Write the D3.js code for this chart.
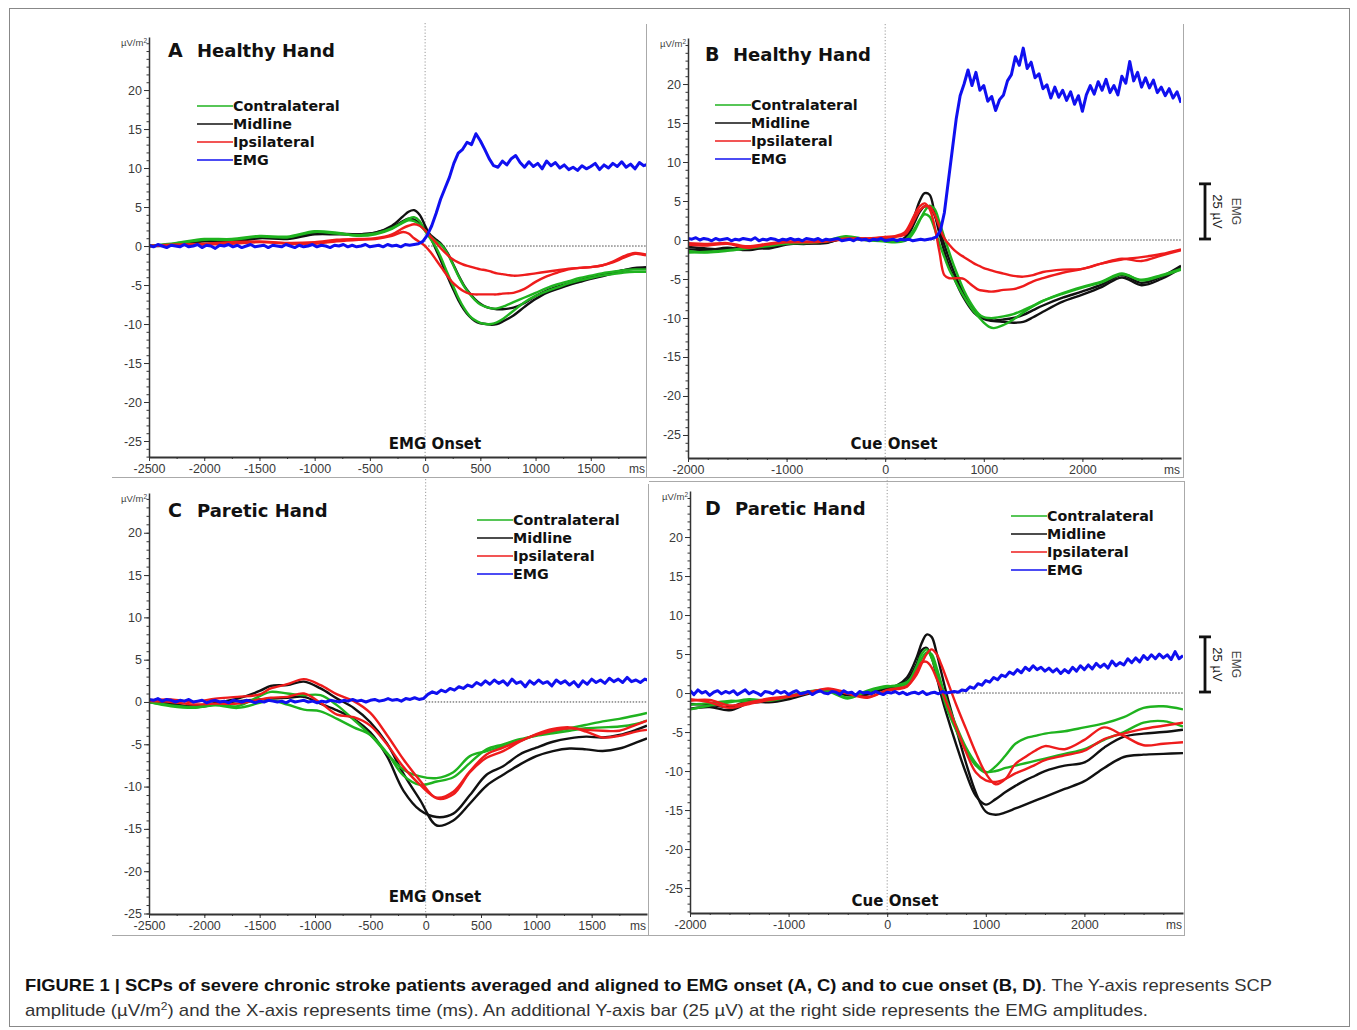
<!DOCTYPE html>
<html>
<head>
<meta charset="utf-8">
<script src="https://cdn.jsdelivr.net/npm/d3@7"></script>
<style>
  body { margin: 0; background: #fff; }
  svg { display: block; }
</style>
</head>
<body>
<svg id="fig" width="1357" height="1030"></svg>
<script>
// ---------------- data (µV/m², EMG in plot units) ----------------
// Panel A: healthy hand, aligned to EMG onset
var timesA = [-2500,-2250,-2000,-1750,-1500,-1250,-1000,-800,-600,-450,-300,-200,-150,-100,-50,0,50,100,150,200,250,300,350,400,450,500,550,600,650,700,800,900,1000,1100,1200,1300,1400,1500,1600,1700,1800,1900,2000];
var contraA1 = [0,0.3,0.8,0.8,1.2,1.1,1.8,1.6,1.4,1.6,2.3,3.1,3.5,3.7,3.2,1.9,0.9,-0.2,-1.7,-3.4,-5.0,-6.6,-7.9,-8.9,-9.5,-9.85,-10.0,-10.0,-9.8,-9.4,-8.3,-7.2,-6.4,-5.8,-5.3,-4.8,-4.4,-4.1,-3.8,-3.6,-3.4,-3.3,-3.3];
var contraA2 = [0,0.4,0.9,0.9,1.3,1.2,1.9,1.7,1.3,1.5,2.2,3.0,3.3,3.2,2.7,2.0,1.2,0.6,0.1,-0.9,-2.3,-3.8,-5.1,-6.1,-6.9,-7.5,-7.8,-8.0,-8.0,-7.8,-7.2,-6.6,-6.0,-5.4,-4.9,-4.5,-4.1,-3.8,-3.5,-3.3,-3.1,-3.0,-3.0];
var midA1 = [0,0.1,0.6,0.5,1.0,0.9,1.5,1.5,1.5,1.7,2.6,3.8,4.4,4.6,4.0,2.6,1.1,-0.5,-2.1,-3.8,-5.4,-6.9,-8.1,-9.0,-9.6,-9.9,-10.0,-10.1,-10.0,-9.7,-8.9,-7.8,-6.8,-6.0,-5.5,-5.0,-4.6,-4.2,-3.9,-3.5,-3.1,-2.8,-2.7];
var midA2 = [0,0.2,0.7,0.6,1.1,1.0,1.6,1.6,1.5,1.7,2.4,3.2,3.5,3.4,2.9,2.2,1.4,0.8,0.2,-0.8,-2.2,-3.7,-5.0,-6.0,-6.8,-7.4,-7.8,-8.0,-8.1,-8.1,-7.9,-7.3,-6.4,-5.7,-5.2,-4.8,-4.4,-4.0,-3.7,-3.4,-3.1,-2.9,-2.8];
var ipsiA1 = [0,0.1,0.2,0.3,0.5,0.3,0.3,0.6,0.8,0.9,1.3,1.8,1.6,1.0,0.5,0.0,-0.8,-1.8,-2.8,-3.8,-4.7,-5.3,-5.8,-6.1,-6.2,-6.2,-6.2,-6.2,-6.2,-6.1,-6.0,-5.5,-4.6,-3.9,-3.4,-3.0,-2.8,-2.7,-2.5,-2.1,-1.5,-1.0,-1.2];
var ipsiA2 = [0,0.2,0.3,0.5,0.6,0.4,0.5,0.8,0.9,1.0,1.5,2.3,2.6,2.8,2.6,2.0,1.2,0.4,-0.4,-1.1,-1.7,-2.1,-2.4,-2.6,-2.8,-3.0,-3.1,-3.3,-3.5,-3.6,-3.8,-3.7,-3.5,-3.3,-3.1,-2.9,-2.8,-2.7,-2.5,-2.0,-1.3,-0.9,-1.1];
var emgA = [0.1,-0.1,0.2,0,-0.2,0.1,0,-0.1,0.2,-0.1, 0,0.2,-0.2,0.1,0,-0.3,0.1,0,0.2,-0.1, 0.1,-0.2,0,0.2,-0.1,0,0.1,-0.2,0.1,0,
  -0.1,0.2,0,-0.2,0.1,-0.1,0,0.2,-0.1,0.1, 0,-0.2,0.1,0,0.2,-0.1,0.1,-0.1,0,0.2, -0.1,0,0.1,-0.1,0.2,0,0.1,-0.1,0.2,0.1,
  0.2,0.3,0.6,1.4,2.6,4.2,6.0,7.4,8.8,10.6,11.9,12.4,13.3,13.0,14.4,13.5,12.4,11.2,10.3,10.1,
  10.9,10.4,11.2,11.6,10.7,10.1,10.8,10.2,10.6,9.9,10.9,10.3,10.7,10.0,10.4,9.8,10.1,9.7,10.3,9.9,
  10.2,10.6,9.8,10.4,10.0,10.6,10.2,10.8,10.1,10.5,9.9,10.7,10.3,10.5];

// Panel B: healthy hand, aligned to cue onset
var timesB = [-2000,-1800,-1600,-1400,-1200,-1000,-800,-600,-400,-200,0,100,200,250,300,350,400,450,500,550,600,650,700,750,800,850,900,950,1000,1050,1100,1200,1300,1400,1500,1600,1800,2000,2200,2400,2600,2800,3000];
var contraB1 = [-1.6,-1.5,-1.3,-1.0,-0.7,-0.4,-0.4,-0.1,0.5,0.1,-0.1,-0.2,0.0,0.6,1.5,2.6,3.3,3.0,1.5,-0.5,-2.2,-3.8,-5.0,-6.2,-7.3,-8.3,-9.2,-9.9,-10.6,-11.1,-11.3,-10.9,-10.2,-9.3,-8.5,-7.8,-6.8,-6.0,-5.3,-4.3,-5.2,-4.6,-3.8];
var contraB2 = [-1.4,-1.6,-1.4,-1.1,-0.8,-0.5,-0.3,-0.2,0.4,0.0,-0.2,-0.3,-0.1,0.3,1.2,2.5,3.7,4.4,4.0,2.3,0.3,-1.6,-3.4,-5.0,-6.5,-7.7,-8.7,-9.5,-9.9,-10.0,-10.0,-9.8,-9.5,-9.0,-8.4,-7.8,-6.9,-6.1,-5.4,-4.4,-5.1,-4.5,-3.7];
var midB1 = [-1.2,-1.3,-1.0,-1.3,-0.9,-0.5,-0.5,-0.3,0.2,0.0,0.0,-0.1,0.3,1.5,3.2,5.0,6.0,5.8,3.5,0.8,-1.5,-3.4,-4.9,-6.3,-7.5,-8.5,-9.3,-9.8,-10.1,-10.3,-10.4,-10.5,-10.6,-10.5,-9.9,-9.2,-7.9,-7.0,-6.0,-4.8,-5.8,-5.0,-3.6];
var midB2 = [-0.9,-1.1,-1.2,-0.9,-1.1,-0.6,-0.4,-0.4,0.3,0.1,0.1,0.0,0.2,1.0,2.3,3.6,4.3,4.2,3.2,1.4,-0.6,-2.5,-4.2,-5.7,-6.9,-8.0,-8.9,-9.6,-10.0,-10.2,-10.3,-10.2,-10.0,-9.6,-9.0,-8.4,-7.4,-6.6,-5.7,-4.5,-5.5,-4.7,-3.3];
var ipsiB1 = [-0.4,-0.5,-0.4,-0.8,-0.5,-0.2,-0.2,-0.1,0.2,0.2,0.4,0.5,1.0,2.0,3.3,4.3,4.7,4.0,1.8,-1.5,-4.5,-4.9,-4.9,-4.9,-5.0,-5.5,-6.0,-6.4,-6.5,-6.6,-6.6,-6.4,-6.3,-5.9,-5.3,-4.9,-4.2,-3.7,-3.0,-2.5,-2.2,-1.8,-1.2];
var ipsiB2 = [-0.6,-0.7,-0.5,-1.0,-0.6,-0.3,-0.3,-0.2,0.1,0.2,0.3,0.4,0.7,1.5,2.7,3.8,4.3,4.3,3.3,1.7,0.2,-0.6,-1.3,-1.8,-2.2,-2.6,-3.0,-3.3,-3.6,-3.8,-4.0,-4.3,-4.6,-4.7,-4.5,-4.1,-3.8,-3.7,-3.0,-2.4,-2.7,-2.0,-1.3];
var emgB = [0.2,0.1,0.3,0.0,0.2,0.1,-0.1,0.2,0.0,0.1, 0.2,-0.1,0.1,0.0,0.2,0.1,0.0,0.3,-0.1,0.1, 0.0,0.2,0.1,-0.1,0.1,0.0,0.2,0.0,0.1,-0.1,
  0.2,0.1,0.0,0.2,-0.1,0.1,0.0,0.1,0.2,-0.1, 0.0,0.1,-0.1,0.2,0.0,0.1,-0.1,0.1,0.0,0.2, -0.1,0.0,0.1,-0.1,0.1,0.0,0.1,-0.1,0.0,0.1,
  0.0,0.1,0.2,0.4,1.2,3.5,7.5,11.5,15.5,18.5,20.0,21.8,19.8,21.5,19.2,19.8,17.8,18.4,16.6,18.0,
  18.6,20.4,21.2,23.5,22.4,24.6,22.0,22.8,20.8,21.3,19.4,19.9,18.2,19.6,18.3,19.2,17.9,19.0,17.4,18.5,
  16.5,18.6,19.8,18.7,20.3,19.2,20.6,18.9,19.8,18.6,21.0,20.1,22.9,20.4,21.5,19.6,20.8,19.5,20.5,18.9,
  19.6,18.5,19.4,18.2,19.0,17.6];

// Panel C: paretic hand, aligned to EMG onset
var timesC = [-2500,-2300,-2100,-1900,-1700,-1500,-1400,-1250,-1100,-950,-800,-650,-500,-350,-200,-50,100,250,400,550,700,850,1000,1150,1300,1450,1600,1750,1900,2000];
var contraC1 = [0,-0.4,-0.6,-0.3,-0.5,0.7,1.2,1.0,0.8,0.8,-0.4,-2.1,-3.9,-6.1,-8.0,-8.8,-9.0,-8.3,-6.4,-5.8,-5.2,-4.6,-3.9,-3.5,-3.1,-2.7,-2.3,-2.0,-1.6,-1.3];
var contraC2 = [0,-0.5,-0.7,-0.4,-0.7,-0.1,0.2,-0.3,-0.9,-1.1,-2.0,-3.0,-3.9,-6.0,-8.7,-9.8,-9.4,-8.9,-7.2,-5.6,-5.0,-4.4,-4.0,-3.7,-3.4,-3.1,-3.0,-2.9,-2.6,-2.2];
var midC1 = [0,-0.3,-0.5,-0.1,0.4,1.3,1.9,2.0,2.4,1.6,0.4,-0.7,-2.4,-4.9,-8.5,-11.6,-14.6,-14.0,-12.0,-9.9,-8.6,-7.4,-6.4,-5.8,-5.5,-5.6,-5.8,-5.5,-4.8,-4.3];
var midC2 = [0.1,-0.2,-0.6,-0.3,0.1,0.3,0.4,0.5,0.6,-0.2,-1.0,-2.0,-3.6,-6.4,-10.5,-12.8,-13.6,-13.2,-11.0,-8.6,-7.6,-6.2,-5.4,-4.7,-4.3,-4.1,-4.2,-3.9,-3.3,-2.8];
var ipsiC1 = [0.2,0.3,0.0,0.4,0.6,0.9,1.6,2.1,2.7,2.0,0.9,0.1,-1.3,-3.9,-6.8,-9.3,-11.4,-10.9,-8.3,-6.6,-5.8,-4.7,-3.8,-3.2,-3.0,-3.5,-4.2,-4.0,-3.5,-3.3];
var ipsiC2 = [0.1,0.0,-0.3,-0.2,-0.2,0.3,0.5,0.6,1.0,-0.1,-1.5,-1.8,-2.8,-5.0,-7.7,-9.8,-11.3,-10.6,-8.2,-6.2,-5.4,-4.6,-3.9,-3.4,-3.1,-3.3,-3.4,-3.4,-2.7,-2.2];
var emgC = [0.3,0.2,0.4,0.1,0.3,0.2,0.0,0.2,0.1,0.3, 0.0,0.1,0.2,-0.1,0.1,0.2,0.0,0.1,-0.1,0.2, 0.1,0.0,0.2,0.1,-0.1,0.1,0.0,0.2,0.1,0.0,
  0.1,-0.1,0.2,0.0,0.1,0.2,0.0,0.1,-0.1,0.1, 0.0,0.2,0.1,0.0,0.2,0.1,0.3,0.1,0.2,0.0, 0.2,0.3,0.1,0.2,0.4,0.2,0.3,0.1,0.4,0.3,
  0.5,0.3,0.4,0.9,1.2,1.0,1.4,1.2,1.6,1.4,1.8,1.6,2.0,1.8,2.3,2.0,2.5,2.1,2.6,2.2,
  2.5,2.0,2.7,2.2,2.4,1.8,2.5,2.1,2.6,2.2,2.4,1.9,2.6,2.2,2.5,2.0,2.4,1.8,2.5,2.1,
  2.7,2.3,2.6,2.2,2.8,2.4,2.7,2.3,2.9,2.4,2.6,2.3,2.7,2.5];

// Panel D: paretic hand, aligned to cue onset
var timesD = [-2000,-1800,-1600,-1400,-1200,-1000,-800,-600,-400,-200,0,100,200,300,350,400,450,500,550,600,700,800,900,1000,1100,1200,1300,1400,1500,1600,1800,2000,2200,2400,2600,2800,3000];
var contraD1 = [-2.1,-1.6,-1.2,-0.8,-1.0,-0.5,0.1,0.2,-0.7,0.3,0.9,0.8,1.2,3.5,5.0,5.6,4.5,2.6,0.3,-1.8,-4.8,-7.4,-9.3,-10.2,-9.4,-8.0,-6.5,-5.8,-5.5,-5.2,-4.9,-4.4,-3.9,-3.1,-1.9,-1.7,-2.1];
var contraD2 = [-1.5,-1.3,-1.0,-1.1,-0.9,-0.4,0.2,0.3,-0.6,0.2,0.8,1.0,1.4,3.0,4.4,5.2,5.0,3.3,1.2,-0.8,-4.2,-7.0,-9.0,-10.1,-10.0,-9.6,-9.3,-9.0,-8.7,-8.4,-7.8,-7.2,-6.0,-5.0,-3.8,-3.6,-4.3];
var midD1 = [-2.0,-1.8,-2.2,-1.3,-1.1,-0.6,0.0,0.3,-0.2,0.0,0.6,1.0,2.0,4.6,6.4,7.5,7.2,5.2,2.6,0.0,-4.6,-9.0,-12.8,-15.2,-15.6,-15.3,-14.8,-14.3,-13.8,-13.3,-12.3,-11.3,-9.6,-8.2,-7.9,-7.8,-7.7];
var midD2 = [-1.4,-1.5,-1.8,-1.0,-1.2,-0.8,-0.1,0.4,-0.3,-0.2,0.7,0.9,1.6,3.8,5.5,5.8,4.6,2.2,-0.4,-2.6,-6.6,-10.3,-13.2,-14.3,-13.6,-12.7,-11.9,-11.2,-10.6,-10.0,-9.3,-8.9,-7.0,-5.6,-5.2,-5.0,-4.7];
var ipsiD1 = [-1.0,-0.9,-1.6,-1.2,-0.7,-0.4,0.1,0.5,-0.1,-0.6,0.4,0.6,0.9,2.4,3.8,5.0,5.6,5.0,3.6,1.9,-1.5,-4.6,-7.7,-10.3,-11.7,-11.0,-9.1,-8.2,-7.4,-6.8,-7.2,-6.0,-4.4,-5.5,-6.7,-6.5,-6.3];
var ipsiD2 = [-0.8,-1.2,-1.9,-1.4,-0.9,-0.5,0.0,0.6,0.0,-0.5,0.3,0.5,0.8,2.8,3.9,4.0,3.3,1.9,0.4,-1.2,-4.4,-7.6,-10.2,-11.2,-11.4,-11.0,-10.3,-9.8,-9.2,-8.6,-8.0,-7.4,-5.9,-5.2,-4.6,-4.2,-3.8];
var emgD = [0.3,-0.2,0.4,0.0,0.2,-0.3,0.1,0.3,-0.1,0.2, 0.0,0.3,-0.2,0.1,0.4,-0.1,0.2,0.0,-0.3,0.2, 0.1,-0.1,0.3,0.0,0.2,-0.2,0.1,0.3,-0.1,0.0,
  0.2,-0.2,0.1,0.3,0.0,-0.1,0.2,0.1,-0.2,0.3, 0.0,0.1,-0.3,0.2,0.0,0.1,-0.1,0.2,0.0,-0.2, 0.1,0.0,0.2,-0.1,0.1,-0.2,0.0,0.1,-0.1,0.2,
  -0.2,0.0,0.1,-0.1,0.2,0.0,0.1,0.2,
  0.1,0.4,0.3,0.8,0.6,1.2,1.0,1.6,1.4,2.0,1.7,2.3,2.1,2.7,2.4,3.0,2.6,3.3,2.9,3.5,
  3.0,3.3,2.8,3.2,2.7,3.1,2.5,3.0,2.6,3.3,2.8,3.5,3.0,3.6,3.1,3.8,3.3,3.7,3.2,4.1,
  3.5,3.9,3.6,4.4,3.9,4.5,4.0,4.8,4.3,4.9,4.4,5.0,4.5,4.9,4.3,5.3,4.4,4.8];

var legendNames = ["Contralateral", "Midline", "Ipsilateral", "EMG"];
var yLabelValues = [-25, -20, -15, -10, -5, 0, 5, 10, 15, 20];
var emgBarMicroV = 25;

// ---------------- layout ----------------
var colors = { contra: "#1fb31f", mid: "#111111", ipsi: "#ee1c1c", emg: "#1010f0" };
var emgStep = 40;        // ms between EMG samples
var emgBarUnits = 7.2;   // 25 µV bar height in plot units

var panels = [
  { name: "A", title: "Healthy Hand", x0: 149, x1: 646, y0: 37, y1: 457, xDom: [-2500, 2000], yDom: [-27.05, 26.8],
    xLabels: [-2500, -2000, -1500, -1000, -500, 0, 500, 1000, 1500], xMinor: 250,
    onset: "EMG Onset", onsetX: 435, onsetY: 449, letterX: 168, titleX: 197, titleY: 57,
    legendX: 197, legendY: 106, times: timesA, emgStart: -2500, emg: emgA, bar: false,
    contra: [contraA1, contraA2], mid: [midA1, midA2], ipsi: [ipsiA1, ipsiA2] },
  { name: "B", title: "Healthy Hand", x0: 688, x1: 1181, y0: 38, y1: 458, xDom: [-2000, 3000], yDom: [-27.95, 25.9],
    xLabels: [-2000, -1000, 0, 1000, 2000], xMinor: 200,
    onset: "Cue Onset", onsetX: 894, onsetY: 449, letterX: 705, titleX: 733, titleY: 61,
    legendX: 715, legendY: 105, times: timesB, emgStart: -2000, emg: emgB, bar: true,
    contra: [contraB1, contraB2], mid: [midB1, midB2], ipsi: [ipsiB1, ipsiB2] },
  { name: "C", title: "Paretic Hand", x0: 149, x1: 647, y0: 493, y1: 914, xDom: [-2500, 2000], yDom: [-25.06, 24.7],
    xLabels: [-2500, -2000, -1500, -1000, -500, 0, 500, 1000, 1500], xMinor: 250,
    onset: "EMG Onset", onsetX: 435, onsetY: 902, letterX: 168, titleX: 197, titleY: 517,
    legendX: 477, legendY: 520, times: timesC, emgStart: -2500, emg: emgC, bar: false,
    contra: [contraC1, contraC2], mid: [midC1, midC2], ipsi: [ipsiC1, ipsiC2] },
  { name: "D", title: "Paretic Hand", x0: 690, x1: 1183, y0: 491, y1: 913, xDom: [-2000, 3000], yDom: [-28.2, 25.9],
    xLabels: [-2000, -1000, 0, 1000, 2000], xMinor: 200,
    onset: "Cue Onset", onsetX: 895, onsetY: 906, letterX: 705, titleX: 735, titleY: 515,
    legendX: 1011, legendY: 516, times: timesD, emgStart: -2000, emg: emgD, bar: true,
    contra: [contraD1, contraD2], mid: [midD1, midD2], ipsi: [ipsiD1, ipsiD2] }
];

var sans = "'Liberation Sans', Arial, sans-serif";
var wide = "'DejaVu Sans', Verdana, sans-serif";

var svg = d3.select("#fig");
svg.append("rect").attr("width", 1357).attr("height", 1030).attr("fill", "#fff");

// outer figure frame
svg.append("rect").attr("x", 9.5).attr("y", 8.5).attr("width", 1340).attr("height", 1018)
  .attr("fill", "none").attr("stroke", "#888").attr("stroke-width", 1);

// panel frame edges
var frameLines = [
  [112, 477.5, 1183, 477.5], [646.5, 24, 646.5, 478], [1183.5, 24, 1183.5, 478],
  [112, 935.5, 1185, 935.5], [648.5, 484, 648.5, 936], [1184.5, 481, 1184.5, 936], [649, 481.5, 1185, 481.5]
];
svg.selectAll(".frame").data(frameLines).enter().append("line")
  .attr("class", "frame")
  .attr("x1", function(d) { return d[0]; }).attr("y1", function(d) { return d[1]; })
  .attr("x2", function(d) { return d[2]; }).attr("y2", function(d) { return d[3]; })
  .attr("stroke", "#aaa").attr("stroke-width", 1);

function styleAxis(sel) {
  sel.selectAll("line").attr("stroke", "#333");
  sel.selectAll("text").attr("fill", "#3a3a3a").attr("font-family", sans).attr("font-size", 12.5);
}

panels.forEach(function(p) {
  var x = d3.scaleLinear().domain(p.xDom).range([p.x0, p.x1]);
  var y = d3.scaleLinear().domain(p.yDom).range([p.y1, p.y0]);
  var g = svg.append("g").attr("class", "panel-" + p.name);

  var clipId = "clip-" + p.name;
  g.append("clipPath").attr("id", clipId)
    .append("rect").attr("x", p.x0).attr("y", p.y0 - 20)
    .attr("width", p.x1 - p.x0).attr("height", p.y1 - p.y0 + 20);

  // dotted zero lines
  g.append("line")
    .attr("x1", x(0)).attr("x2", x(0)).attr("y1", p.y0 - 14).attr("y2", p.y1)
    .attr("stroke", "#999").attr("stroke-width", 1).attr("stroke-dasharray", "1.2,2");
  g.append("line")
    .attr("x1", x(0)).attr("x2", p.x1).attr("y1", y(0)).attr("y2", y(0))
    .attr("stroke", "#444").attr("stroke-width", 1).attr("stroke-dasharray", "1.5,1.5");

  // onset label
  g.append("text").attr("x", p.onsetX).attr("y", p.onsetY)
    .attr("text-anchor", "middle").attr("font-family", wide).attr("font-weight", "bold")
    .attr("font-size", 15).attr("fill", "#111").text(p.onset);

  var plot = g.append("g").attr("clip-path", "url(#" + clipId + ")");

  var scp = d3.line()
    .x(function(d, i) { return x(p.times[i]); })
    .y(function(d) { return y(d); })
    .curve(d3.curveCatmullRom.alpha(0.5));

  ["mid", "contra", "ipsi"].forEach(function(key) {
    p[key].forEach(function(values) {
      plot.append("path")
        .datum(values)
        .attr("d", scp)
        .attr("fill", "none")
        .attr("stroke", colors[key])
        .attr("stroke-width", 2.4)
        .attr("stroke-linejoin", "round");
    });
  });

  var emgLine = d3.line()
    .x(function(d, i) { return x(p.emgStart + i * emgStep); })
    .y(function(d) { return y(d); });
  plot.append("path")
    .datum(p.emg)
    .attr("d", emgLine)
    .attr("fill", "none")
    .attr("stroke", colors.emg)
    .attr("stroke-width", 3)
    .attr("stroke-linejoin", "round");

  // y axis
  var yMajor = yLabelValues.filter(function(v) { return v >= p.yDom[0] - 0.1 && v <= p.yDom[1]; });
  var gy = g.append("g").attr("transform", "translate(" + p.x0 + ",0)")
    .call(d3.axisLeft(y).tickValues(yMajor).tickSize(5).tickSizeOuter(0).tickPadding(2)
      .tickFormat(function(d) { return String(d); }));
  gy.select(".domain").attr("stroke", "#333").attr("stroke-width", 1.5);
  styleAxis(gy);
  var gyMinor = g.append("g").attr("transform", "translate(" + p.x0 + ",0)")
    .call(d3.axisLeft(y).tickValues(d3.range(Math.ceil(p.yDom[0]), Math.floor(p.yDom[1]) + 1))
      .tickSize(2.5).tickFormat(""));
  gyMinor.select(".domain").remove();
  styleAxis(gyMinor);

  // x axis
  var gx = g.append("g").attr("transform", "translate(0," + p.y1 + ")")
    .call(d3.axisBottom(x).tickValues(p.xLabels).tickSize(4).tickSizeOuter(0).tickPadding(3)
      .tickFormat(function(d) { return String(d); }));
  gx.select(".domain").attr("stroke", "#333").attr("stroke-width", 2);
  styleAxis(gx);
  var gxMinor = g.append("g").attr("transform", "translate(0," + p.y1 + ")")
    .call(d3.axisBottom(x).tickValues(d3.range(p.xDom[0], p.xDom[1], p.xMinor)).tickSize(2).tickFormat(""));
  gxMinor.select(".domain").remove();
  styleAxis(gxMinor);
  g.append("text").attr("x", p.x1 - 1).attr("y", p.y1 + 16)
    .attr("text-anchor", "end").attr("font-family", sans).attr("font-size", 12)
    .attr("fill", "#3a3a3a").text("ms");

  // unit label
  var unit = g.append("text").attr("x", p.x0 - 2).attr("y", p.y0 + 9)
    .attr("text-anchor", "end").attr("font-family", sans).attr("font-size", 9.5).attr("fill", "#444");
  unit.append("tspan").text("µV/m");
  unit.append("tspan").attr("font-size", 6.5).attr("dy", -3).text("2");

  // title
  g.append("text").attr("x", p.letterX).attr("y", p.titleY)
    .attr("font-family", wide).attr("font-weight", "bold").attr("font-size", 19)
    .attr("fill", "#111").text(p.name);
  g.append("text").attr("x", p.titleX).attr("y", p.titleY)
    .attr("font-family", wide).attr("font-weight", "bold").attr("font-size", 18)
    .attr("fill", "#111").text(p.title);

  // legend
  var legColors = [colors.contra, colors.mid, colors.ipsi, colors.emg];
  var leg = g.append("g");
  legendNames.forEach(function(name, i) {
    var ly = p.legendY + i * 18;
    leg.append("line").attr("x1", p.legendX).attr("x2", p.legendX + 36)
      .attr("y1", ly).attr("y2", ly).attr("stroke", legColors[i]).attr("stroke-width", 1.6);
    leg.append("text").attr("x", p.legendX + 36).attr("y", ly + 5)
      .attr("font-family", wide).attr("font-weight", "bold").attr("font-size", 14.3)
      .attr("fill", "#111").text(name);
  });

  // EMG scale bar
  if (p.bar) {
    var bx = 1205, bTop = y(emgBarUnits), bBot = y(0) - 1;
    var bar = g.append("g").attr("stroke", "#111").attr("stroke-width", 2.8);
    bar.append("line").attr("x1", bx).attr("x2", bx).attr("y1", bTop).attr("y2", bBot);
    bar.append("line").attr("x1", bx - 6).attr("x2", bx + 6).attr("y1", bTop).attr("y2", bTop);
    bar.append("line").attr("x1", bx - 6).attr("x2", bx + 6).attr("y1", bBot).attr("y2", bBot);
    var cy = (bTop + bBot) / 2;
    g.append("text").attr("transform", "translate(" + (bx + 8) + "," + cy + ") rotate(90)")
      .attr("text-anchor", "middle").attr("font-family", sans).attr("font-size", 13)
      .attr("fill", "#222").text(emgBarMicroV + " µV");
    g.append("text").attr("transform", "translate(" + (bx + 27) + "," + cy + ") rotate(90)")
      .attr("text-anchor", "middle").attr("font-family", sans).attr("font-size", 12)
      .attr("fill", "#444").text("EMG");
  }
});

// caption
var cap1 = svg.append("text").attr("x", 25).attr("y", 991)
  .attr("font-family", sans).attr("font-size", 17)
  .attr("textLength", 1247).attr("lengthAdjust", "spacingAndGlyphs");
cap1.append("tspan").attr("font-weight", "bold").attr("fill", "#111")
  .text("FIGURE 1 | SCPs of severe chronic stroke patients averaged and aligned to EMG onset (A, C) and to cue onset (B, D)");
cap1.append("tspan").attr("fill", "#333").text(". The Y-axis represents SCP");

var cap2 = svg.append("text").attr("x", 25).attr("y", 1016)
  .attr("font-family", sans).attr("font-size", 17).attr("fill", "#333")
  .attr("textLength", 1123).attr("lengthAdjust", "spacingAndGlyphs");
cap2.append("tspan").text("amplitude (µV/m");
cap2.append("tspan").attr("font-size", 11).attr("dy", -6).text("2");
cap2.append("tspan").attr("dy", 6).text(") and the X-axis represents time (ms). An additional Y-axis bar (25 µV) at the right side represents the EMG amplitudes.");
</script>
</body>
</html>
